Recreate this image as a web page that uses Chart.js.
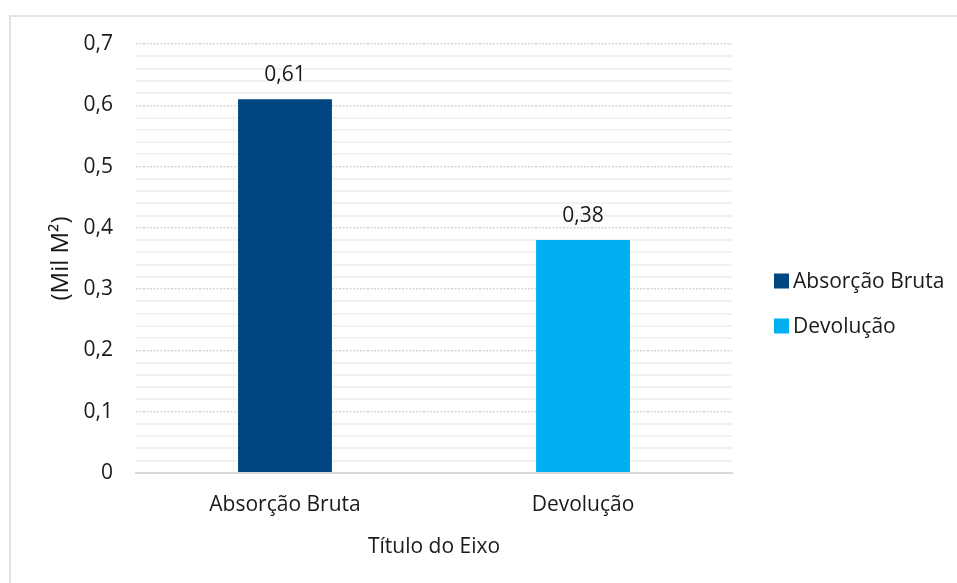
<!DOCTYPE html>
<html>
<head>
<meta charset="utf-8">
<script src="https://cdn.jsdelivr.net/npm/chart.js@4"></script>
<style>
  body { margin: 0; overflow: hidden; background: #fff; }
  #frame { position: absolute; left: 9px; top: 15px; width: 1000px; height: 620px; border: 2px solid #e3e3e3; }
  #myChart { position: absolute; left: 0; top: 0; }
</style>
</head>
<body>
<div id="frame"></div>
<canvas id="myChart" width="957" height="583"></canvas>
<script>
'use strict';

let categories = ['Absorção Bruta', 'Devolução'];
let values = [0.61, 0.38];
let barColors = ['#004680', '#00B0F0'];
let axisMin = 0;
let axisMax = 0.7;
let majorStep = 0.1;
let minorStep = 0.02;
let yTitle = '(Mil M²)';
let xTitle = 'Título do Eixo';

let textColor = '#1a1a1a';
let fontFamily = '"Open Sans", "Noto Sans", sans-serif';

function toComma(v) {
  return (Math.round(v * 100) / 100).toString().replace('.', ',');
}

function isMajor(v) {
  return Math.abs(v / majorStep - Math.round(v / majorStep)) < 1e-6;
}

// value labels above each bar
let barLabels = {
  id: 'barLabels',
  afterDatasetsDraw(chart) {
    let ctx = chart.ctx;
    let meta = chart.getDatasetMeta(0);
    ctx.save();
    ctx.font = '21px ' + fontFamily;
    ctx.fillStyle = textColor;
    ctx.textAlign = 'center';
    ctx.textBaseline = 'alphabetic';
    for (let i = 0; i < meta.data.length; i++) {
      let bar = meta.data[i];
      ctx.fillText(toComma(values[i]), bar.x, bar.y - 18);
    }
    ctx.restore();
  }
};

// legend on the right, drawn like the office one (small gap box / text)
let sideLegend = {
  id: 'sideLegend',
  afterDraw(chart) {
    let ctx = chart.ctx;
    let boxX = chart.chartArea.right + 42;
    let midY = chart.height / 2 + 12;
    let spacing = 45;
    let startY = midY - (categories.length - 1) * spacing / 2;
    ctx.save();
    ctx.font = '21px ' + fontFamily;
    ctx.textBaseline = 'middle';
    ctx.textAlign = 'left';
    for (let i = 0; i < categories.length; i++) {
      let y = startY + i * spacing;
      ctx.fillStyle = barColors[i];
      ctx.fillRect(boxX, y - 7.5, 15, 15);
      ctx.fillStyle = textColor;
      ctx.fillText(categories[i], boxX + 19, y + 1);
    }
    ctx.restore();
  }
};

let ctx = document.getElementById('myChart').getContext('2d');

let chart = new Chart(ctx, {
  type: 'bar',
  data: {
    labels: categories,
    datasets: [
      {
        label: 'Valores',
        data: values,
        backgroundColor: barColors,
        barPercentage: 0.315,
        categoryPercentage: 1
      }
    ]
  },
  options: {
    responsive: false,
    animation: false,
    layout: {
      padding: { left: 43, top: 44, right: 225, bottom: 19 }
    },
    plugins: {
      legend: { display: false },
      tooltip: { enabled: false }
    },
    scales: {
      x: {
        grid: { display: false, drawTicks: false },
        border: { display: true, color: '#d9d9d9', width: 2 },
        ticks: {
          color: textColor,
          padding: 19,
          font: { family: fontFamily, size: 21 }
        },
        title: {
          display: true,
          text: xTitle,
          color: textColor,
          padding: { top: 4, bottom: 4 },
          font: { family: fontFamily, size: 21 }
        },
        afterFit: function(scale) { scale.height = 91; }
      },
      yMinor: {
        position: 'right',
        min: axisMin,
        max: axisMax,
        ticks: { display: false, stepSize: minorStep },
        border: { display: false },
        grid: {
          drawTicks: false,
          z: -2,
          lineWidth: 2,
          color: function(c) {
            return isMajor(c.tick.value) ? 'rgba(0,0,0,0)' : '#f2f2f2';
          }
        }
      },
      y: {
        position: 'left',
        min: axisMin,
        max: axisMax,
        border: { display: false, dash: [2, 1.5] },
        grid: {
          drawTicks: false,
          lineWidth: 1.5,
          color: function(c) {
            return c.tick.value === 0 ? 'rgba(0,0,0,0)' : '#d6d6d6';
          }
        },
        ticks: {
          stepSize: majorStep,
          padding: 23,
          color: textColor,
          font: { family: fontFamily, size: 21 },
          callback: function(v) { return toComma(v); }
        },
        title: {
          display: true,
          text: yTitle,
          color: textColor,
          padding: { top: 4, bottom: 4 },
          font: { family: fontFamily, size: 24 }
        },
        afterFit: function(scale) { scale.width = 93; }
      }
    }
  },
  plugins: [barLabels, sideLegend]
});
</script>
</body>
</html>
